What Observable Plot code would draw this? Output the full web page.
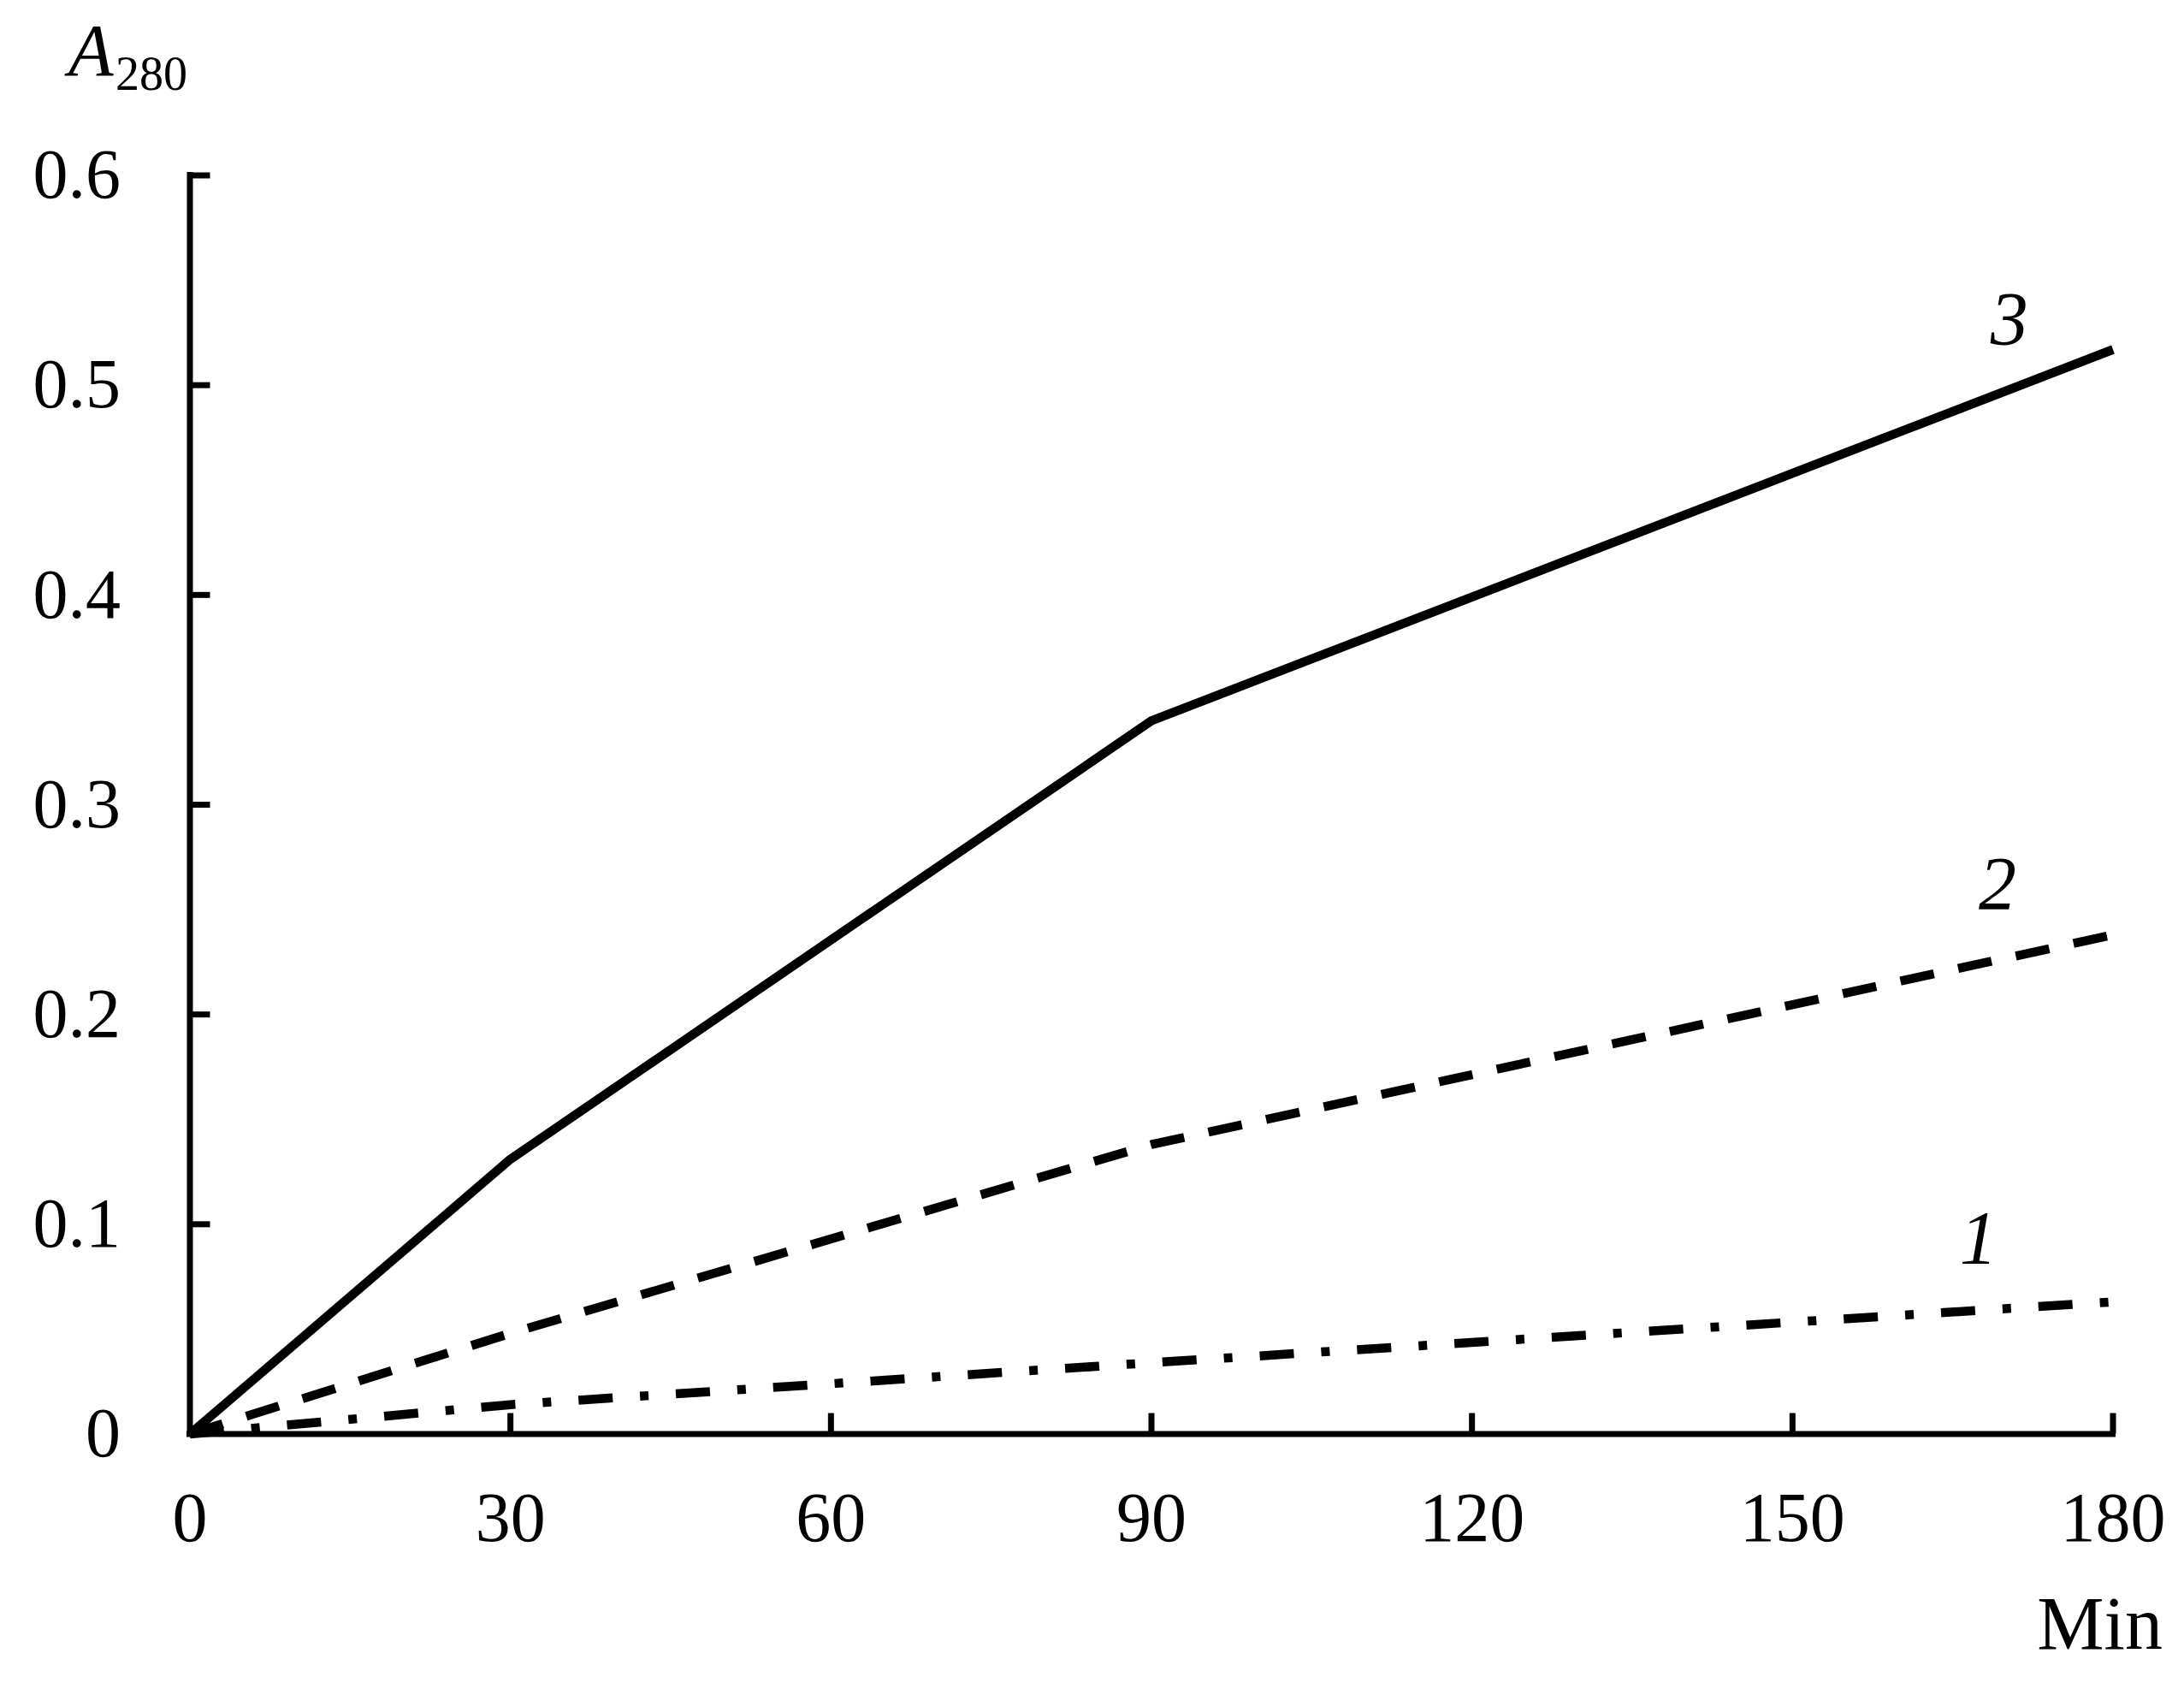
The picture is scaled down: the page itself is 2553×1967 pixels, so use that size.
<!DOCTYPE html>
<html><head><meta charset="utf-8">
<script src="https://cdn.jsdelivr.net/npm/d3@7"></script>
<script src="https://cdn.jsdelivr.net/npm/@observablehq/plot@0.6"></script>
<style>
html,body{margin:0;padding:0;background:#fff;}
#wrap{position:relative;width:2553px;height:1967px;font-family:"Liberation Serif","Times New Roman",serif;color:#000;}
#wrap svg{position:absolute;left:0;top:0;}
.lab{position:absolute;white-space:nowrap;}
</style></head><body>
<div id="wrap">
  <span class="lab" style="left:80px;top:16px;font-size:86px;line-height:86px;font-style:italic;">A</span>
  <span class="lab" style="left:135px;top:58px;font-size:56px;line-height:56px;">280</span>
  <span class="lab" style="right:25px;top:1854px;font-size:88px;line-height:88px;">Min</span>
</div>
<script>
const minutes = [0, 30, 90, 180];
const curve1 = [0, 0.014, 0.034, 0.063];
const curve2 = [0, 0.048, 0.138, 0.238];
const curve3 = [0, 0.131, 0.340, 0.517];
const seriesNames = ["1", "2", "3"];
const xTicks = [0, 30, 60, 90, 120, 150, 180];
const yTicks = [0, 0.1, 0.2, 0.3, 0.4, 0.5, 0.6];
const labelX = [167.4, 169.2, 170.3];
const labelY = [0.093, 0.262, 0.531];

const series = [curve1, curve2, curve3];
const rows = [];
series.forEach((vals, i) => minutes.forEach((m, j) => rows.push({series: seriesNames[i], x: m, y: vals[j]})));
const labels = seriesNames.map((s, i) => ({text: s, x: labelX[i], y: labelY[i]}));
const dashes = {"1": "40,32,10,32", "2": "40,29", "3": null};

const lineMarks = seriesNames.map(s => Plot.line(rows.filter(r => r.series === s), {
  x: "x", y: "y", stroke: "#000", strokeWidth: 10.5,
  strokeLinecap: "butt", strokeLinejoin: "round",
  strokeDasharray: dashes[s] || undefined
}));

const chart = Plot.plot({
  width: 2553, height: 1967,
  marginLeft: 221.5, marginRight: 83.5, marginTop: 204.5, marginBottom: 291.5,
  x: {domain: [0, 180]},
  y: {domain: [0, 0.6]},
  style: {fontFamily: "'Liberation Serif','Times New Roman',serif", background: "transparent", color: "#000"},
  marks: [
    ...lineMarks,
    Plot.ruleX([0], {stroke: "#000", strokeWidth: 7, strokeLinecap: "square"}),
    Plot.ruleY([0], {stroke: "#000", strokeWidth: 7, strokeLinecap: "square"}),
    Plot.axisX({ticks: xTicks.slice(1), tickSize: 24, dy: -24, strokeWidth: 7, stroke: "#000", tickFormat: () => "", label: null}),
    Plot.axisY({ticks: yTicks.slice(1), tickSize: 24, dx: 24, strokeWidth: 7, stroke: "#000", tickFormat: () => "", label: null}),
    Plot.axisX({ticks: xTicks, tickSize: 0, tickPadding: 67, fontSize: 82, fill: "#000", tickFormat: d => String(d), label: null}),
    Plot.axisY({ticks: yTicks, tickSize: 0, tickPadding: 81, fontSize: 82, fill: "#000", tickFormat: d => String(d), label: null}),
    Plot.text(labels, {x: "x", y: "y", text: "text", fontSize: 88, fontStyle: "italic", fill: "#000"})
  ]
});
document.getElementById("wrap").prepend(chart);
</script>
</body></html>
